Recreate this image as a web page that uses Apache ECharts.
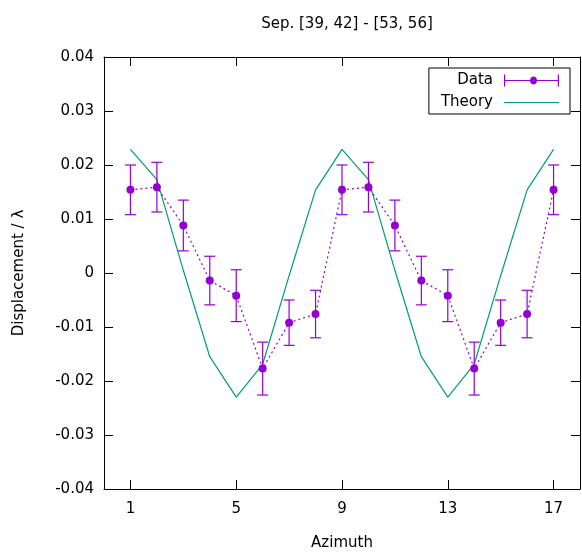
<!DOCTYPE html>
<html><head><meta charset="utf-8">
<script src="https://cdn.jsdelivr.net/npm/echarts@6/dist/echarts.min.js"></script>
<style>html,body{margin:0;padding:0;background:#fff}#c{width:582px;height:554px}</style>
</head><body><div id="c"></div>
<script>
const azimuth = [1,2,3,4,5,6,7,8,9,10,11,12,13,14,15,16,17];
const dataY = [0.0154, 0.0159, 0.0088, -0.0014, -0.0042, -0.0177, -0.0092, -0.0076,
               0.0154, 0.0159, 0.0088, -0.0014, -0.0042, -0.0177, -0.0092, -0.0076, 0.0154];
const dataErr = [0.0046, 0.0046, 0.0047, 0.0045, 0.0048, 0.0049, 0.0042, 0.0044,
                 0.0046, 0.0046, 0.0047, 0.0045, 0.0048, 0.0049, 0.0042, 0.0044, 0.0046];
const theoryY = [0.0229, 0.0173, 0.0005, -0.0155, -0.0230, -0.0169, -0.0005, 0.0154,
                 0.0229, 0.0173, 0.0005, -0.0155, -0.0230, -0.0169, -0.0005, 0.0154, 0.0229];
const xTicks = [1,5,9,13,17];
const titleText = 'Sep. [39, 42] - [53, 56]';

const PURPLE = '#9400d3', GREEN = '#009e73';
const FONT = 'DejaVu Sans';
const FS = 15;

const chart = echarts.init(document.getElementById('c'), null, {renderer:'canvas'});
const dataPts = azimuth.map((x,i)=>[x, dataY[i]]);
const errPts = azimuth.map((x,i)=>[x, dataY[i]-dataErr[i], dataY[i]+dataErr[i]]);
const theoryPts = azimuth.map((x,i)=>[x, theoryY[i]]);

function yFmt(v){ const r = Math.round(v*100)/100; return r===0 ? '0' : r.toFixed(2); }

const dataIcon = 'path://M0,5.4L55,5.4L55,6.6L0,6.6Z M0,0L1.2,0L1.2,12L0,12Z M53.8,0L55,0L55,12L53.8,12Z ' +
  'M33,6L32.6,8L31.4,9.5L29.5,10L27.6,9.5L26.4,8L26,6L26.4,4L27.6,2.5L29.5,2L31.4,2.5L32.6,4Z';
const lineIcon = 'path://M0,5.4L55,5.4L55,6.6L0,6.6Z M0,0L0,0.01L0.01,0Z M0,12L0,11.99L0.01,12Z';

const axisCommon = {
  axisLine:{show:true, onZero:false, lineStyle:{color:'#000', width:1}},
  axisTick:{show:true, inside:true, length:9, lineStyle:{color:'#000'}},
  splitLine:{show:false}
};

chart.setOption({
  animation:false,
  backgroundColor:'#fff',
  textStyle:{fontFamily:FONT},
  title:{text:titleText, left:342, top:12, textAlign:'center',
    textStyle:{fontFamily:FONT, fontSize:FS, fontWeight:'normal', color:'#000'}},
  grid:{left:104, right:2, top:57, bottom:65, containLabel:false, outerBoundsMode:'none'},
  legend:{
    orient:'vertical', right:12, top:68, align:'right',
    borderColor:'#000', borderWidth:1, padding:[5,11,4,12],
    itemWidth:55, itemHeight:12, itemGap:7,
    textStyle:{fontFamily:FONT, fontSize:FS, color:'#000', width:58, align:'right', padding:[0,6,0,0]},
    data:[{name:'Data', icon:dataIcon},{name:'Theory', icon:lineIcon}]
  },
  xAxis:[
    Object.assign({type:'value', min:0, max:18, position:'bottom',
      name:'Azimuth', nameLocation:'middle', nameGap:47,
      nameTextStyle:{fontFamily:FONT, fontSize:FS, color:'#000'},
      axisLabel:{customValues:xTicks, fontFamily:FONT, fontSize:FS, color:'#000', margin:13}},
      axisCommon, {axisTick:Object.assign({}, axisCommon.axisTick, {customValues:xTicks})}),
    Object.assign({type:'value', min:0, max:18, position:'top',
      axisLabel:{show:false}}, axisCommon,
      {axisTick:Object.assign({}, axisCommon.axisTick, {customValues:xTicks})})
  ],
  yAxis:[
    Object.assign({type:'value', min:-0.04, max:0.04, interval:0.01, position:'left',
      name:'Displacement / λ', nameLocation:'middle', nameGap:77, nameRotate:90,
      nameTextStyle:{fontFamily:FONT, fontSize:FS, color:'#000'},
      axisLabel:{formatter:yFmt, fontFamily:FONT, fontSize:FS, color:'#000', margin:10}}, axisCommon),
    Object.assign({type:'value', min:-0.04, max:0.04, interval:0.01, position:'right',
      axisLabel:{show:false}}, axisCommon)
  ],
  series:[
    {name:'Theory', type:'line', data:theoryPts, showSymbol:false, symbol:'none',
      lineStyle:{color:GREEN, width:1.2}, itemStyle:{color:GREEN}, z:2},
    {name:'Data', type:'custom', data:errPts, z:3,
      itemStyle:{color:PURPLE},
      renderItem:function(params, api){
        const x = api.value(0);
        const lo = api.coord([x, api.value(1)]);
        const hi = api.coord([x, api.value(2)]);
        const w = 5.5;
        const st = {stroke:PURPLE, lineWidth:1.2};
        return {type:'group', children:[
          {type:'line', shape:{x1:lo[0], y1:lo[1], x2:hi[0], y2:hi[1]}, style:st},
          {type:'line', shape:{x1:lo[0]-w, y1:lo[1], x2:lo[0]+w, y2:lo[1]}, style:st},
          {type:'line', shape:{x1:hi[0]-w, y1:hi[1], x2:hi[0]+w, y2:hi[1]}, style:st}
        ]};
      }},
    {name:'Data', type:'line', data:dataPts, symbol:'circle', symbolSize:8, z:4,
      lineStyle:{color:PURPLE, width:1.2, type:[2,3]}, itemStyle:{color:PURPLE}}
  ]
});
</script></body></html>
